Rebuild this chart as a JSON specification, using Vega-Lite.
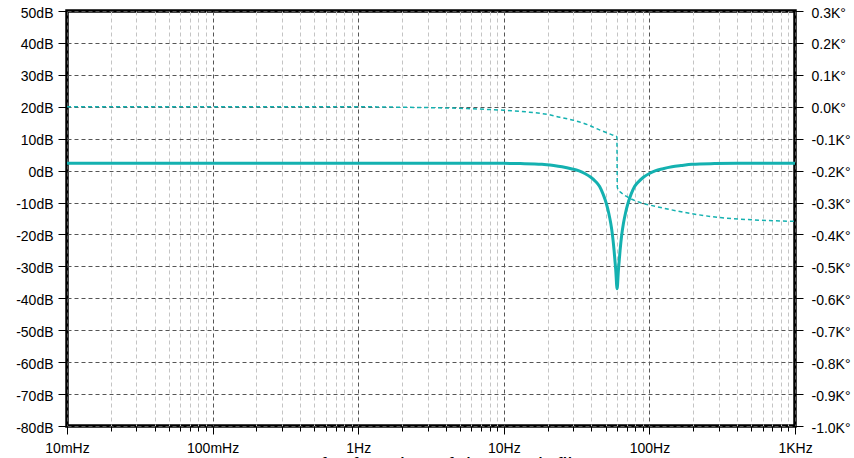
{
  "$schema": "https://vega.github.io/schema/vega-lite/v6.json",
  "width": 728,
  "height": 415,
  "autosize": {"type": "none"},
  "padding": {"left": 67, "top": 11, "right": 59, "bottom": 32},
  "background": "white",
  "config": {
    "view": {"stroke": "black", "strokeWidth": 3.5},
    "axis": {
      "labelFont": "Liberation Sans",
      "labelFontSize": 14,
      "labelColor": "black",
      "tickColor": "black",
      "tickWidth": 1,
      "domain": false,
      "titleFont": "Liberation Sans",
      "titleColor": "black"
    }
  },
  "encoding": {
    "x": {
      "field": "f",
      "type": "quantitative",
      "scale": {"type": "log", "domain": [0.01, 1000], "nice": false},
      "axis": {
        "values": [0.01, 0.02, 0.03, 0.04, 0.05, 0.06, 0.07, 0.08, 0.09, 0.1, 0.2, 0.3, 0.4, 0.5, 0.6, 0.7, 0.8, 0.9, 1, 2, 3, 4, 5, 6, 7, 8, 9, 10, 20, 30, 40, 50, 60, 70, 80, 90, 100, 200, 300, 400, 500, 600, 700, 800, 900, 1000],
        "labelExpr": "datum.value == 0.01 ? '10mHz' : datum.value == 0.1 ? '100mHz' : datum.value == 1 ? '1Hz' : datum.value == 10 ? '10Hz' : datum.value == 100 ? '100Hz' : datum.value == 1000 ? '1KHz' : ''",
        "labelFlush": false,
        "labelOverlap": false,
        "tickSize": {"condition": {"test": "indexof([0.01, 0.1, 1, 10, 100, 1000], datum.value) >= 0", "value": 8}, "value": 5},
        "labelPadding": 7,
        "grid": true,
        "gridColor": {"condition": {"test": "indexof([0.01, 0.1, 1, 10, 100, 1000], datum.value) >= 0", "value": "#555555"}, "value": "#c4c4c4"},
        "gridDash": [4, 3],
        "gridWidth": 1,
        "title": "Transfer function of the notch filter",
        "titleFontSize": 22,
        "titleFontWeight": "normal",
        "titleBaseline": "alphabetic",
        "titleY": 46.5
      }
    }
  },
  "layer": [
    {
      "data": {
        "values": [
          {"f": 0.01, "mag": 2.3},
          {"f": 0.1, "mag": 2.3},
          {"f": 1, "mag": 2.3},
          {"f": 5, "mag": 2.3},
          {"f": 10, "mag": 2.27},
          {"f": 13, "mag": 2.2},
          {"f": 18.3, "mag": 2.0},
          {"f": 22, "mag": 1.6},
          {"f": 25.1, "mag": 1.2},
          {"f": 29, "mag": 0.6},
          {"f": 32.9, "mag": -0.1},
          {"f": 36, "mag": -0.9},
          {"f": 39.4, "mag": -2.0},
          {"f": 42.5, "mag": -3.3},
          {"f": 45.5, "mag": -5},
          {"f": 48, "mag": -7.3},
          {"f": 50.6, "mag": -10.3},
          {"f": 52.5, "mag": -13.2},
          {"f": 54.3, "mag": -16.6},
          {"f": 55.8, "mag": -20.3},
          {"f": 57.2, "mag": -25},
          {"f": 58.7, "mag": -31},
          {"f": 60, "mag": -37},
          {"f": 61.3, "mag": -31},
          {"f": 62.9, "mag": -25},
          {"f": 64.5, "mag": -20.3},
          {"f": 66.3, "mag": -16.6},
          {"f": 68.6, "mag": -13.2},
          {"f": 71.2, "mag": -10.3},
          {"f": 75, "mag": -7.3},
          {"f": 79.1, "mag": -5},
          {"f": 85, "mag": -3.3},
          {"f": 91.4, "mag": -2.0},
          {"f": 100, "mag": -0.9},
          {"f": 109.4, "mag": -0.1},
          {"f": 124, "mag": 0.6},
          {"f": 143, "mag": 1.2},
          {"f": 165, "mag": 1.6},
          {"f": 196, "mag": 2.0},
          {"f": 280, "mag": 2.2},
          {"f": 400, "mag": 2.27},
          {"f": 1000, "mag": 2.3}
        ]
      },
      "mark": {"type": "line", "color": "#14b1b0", "strokeWidth": 3, "interpolate": "monotone"},
      "encoding": {
        "y": {
          "field": "mag",
          "type": "quantitative",
          "scale": {"domain": [-80, 50], "nice": false, "zero": false},
          "axis": {
            "orient": "left",
            "values": [-80, -70, -60, -50, -40, -30, -20, -10, 0, 10, 20, 30, 40, 50],
            "labelExpr": "datum.value + 'dB'",
            "tickSize": 9,
            "labelPadding": 5,
            "labelOffset": 2,
            "grid": true,
            "gridColor": "#555555",
            "gridDash": [4, 3],
            "gridWidth": 1,
            "title": null
          }
        }
      }
    },
    {
      "data": {
        "values": [
          {"f": 0.01, "phase": 0},
          {"f": 0.1, "phase": 0},
          {"f": 1, "phase": 0},
          {"f": 2, "phase": -1.5},
          {"f": 5, "phase": -5},
          {"f": 10, "phase": -11},
          {"f": 15, "phase": -17},
          {"f": 20, "phase": -24},
          {"f": 24.3, "phase": -33},
          {"f": 31.7, "phase": -45},
          {"f": 38, "phase": -57},
          {"f": 45.8, "phase": -73},
          {"f": 52, "phase": -83},
          {"f": 57, "phase": -90},
          {"f": 59.8, "phase": -94},
          {"f": 60.2, "phase": -252},
          {"f": 62, "phase": -263},
          {"f": 64.6, "phase": -271},
          {"f": 73.7, "phase": -287},
          {"f": 91, "phase": -303},
          {"f": 101, "phase": -308},
          {"f": 138.7, "phase": -322},
          {"f": 190, "phase": -334},
          {"f": 305, "phase": -347},
          {"f": 500, "phase": -354},
          {"f": 1000, "phase": -359}
        ]
      },
      "mark": {"type": "line", "color": "#14b1b0", "strokeWidth": 1.5, "strokeDash": [4, 3], "interpolate": "monotone"},
      "encoding": {
        "y": {
          "field": "phase",
          "type": "quantitative",
          "scale": {"domain": [-1000, 300], "nice": false, "zero": false},
          "axis": {
            "orient": "right",
            "values": [-1000, -900, -800, -700, -600, -500, -400, -300, -200, -100, 0, 100, 200, 300],
            "labelExpr": "(datum.value < 0 ? '-' : '') + format(abs(datum.value) / 1000, '.1f') + 'K°'",
            "tickSize": 8,
            "labelPadding": 8,
            "labelOffset": 2,
            "grid": false,
            "title": null
          }
        }
      }
    }
  ],
  "resolve": {"scale": {"y": "independent"}}
}
